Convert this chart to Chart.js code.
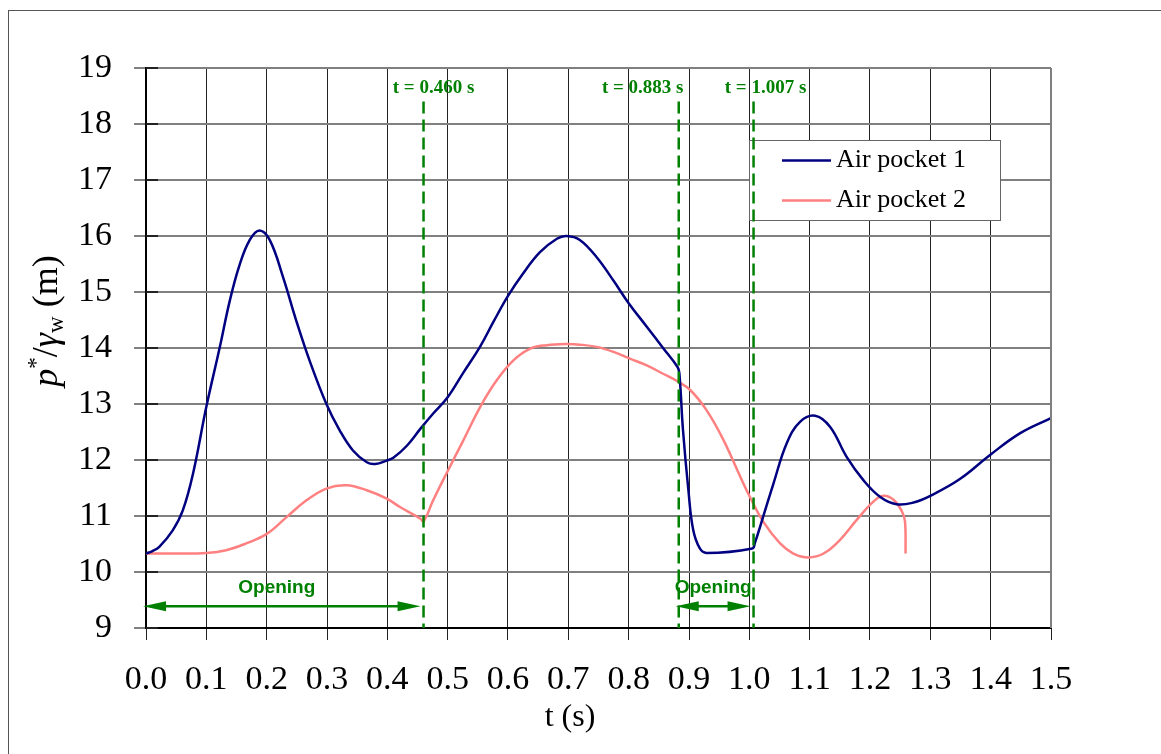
<!DOCTYPE html>
<html><head><meta charset="utf-8">
<script src="https://cdn.jsdelivr.net/npm/chart.js@4/dist/chart.umd.min.js"></script>
<style>html,body{margin:0;padding:0;background:#fff}#wrap{width:1161px;height:754px}</style>
</head><body><div id="wrap"><canvas id="c" width="1161" height="754"></canvas></div>
<script>
// ---- data ----
const seriesNames = ['Air pocket 1', 'Air pocket 2'];
const tAir1 = [0, 0.01, 0.022, 0.044, 0.061, 0.078, 0.10, 0.122, 0.139, 0.155, 0.172, 0.188, 0.205, 0.227, 0.249, 0.271, 0.299, 0.321, 0.343, 0.366, 0.380, 0.399, 0.41, 0.432, 0.455, 0.476, 0.5, 0.526, 0.554, 0.576, 0.6, 0.625, 0.653, 0.681, 0.697, 0.719, 0.747, 0.775, 0.8, 0.83, 0.857, 0.881, 0.884, 0.89, 0.899, 0.907, 0.918, 0.929, 1.005, 1.009, 1.023, 1.04, 1.062, 1.084, 1.109, 1.134, 1.161, 1.189, 1.217, 1.244, 1.272, 1.3, 1.349, 1.399, 1.449, 1.5];
const pAir1 = [10.33, 10.37, 10.45, 10.74, 11.10, 11.76, 12.95, 14.0, 14.85, 15.48, 15.93, 16.10, 15.93, 15.27, 14.49, 13.78, 13.0, 12.53, 12.17, 11.96, 11.93, 11.99, 12.04, 12.25, 12.56, 12.83, 13.12, 13.56, 14.03, 14.47, 14.93, 15.33, 15.71, 15.95, 16.0, 15.93, 15.62, 15.2, 14.8, 14.38, 14.0, 13.66, 13.55, 12.54, 11.46, 10.75, 10.42, 10.34, 10.42, 10.51, 10.99, 11.58, 12.3, 12.68, 12.79, 12.59, 12.06, 11.64, 11.34, 11.21, 11.24, 11.36, 11.66, 12.09, 12.48, 12.75];
const tAir2 = [0, 0.05, 0.1, 0.133, 0.166, 0.2, 0.233, 0.266, 0.299, 0.332, 0.366, 0.399, 0.421, 0.455, 0.46, 0.476, 0.498, 0.526, 0.554, 0.581, 0.609, 0.637, 0.664, 0.697, 0.719, 0.747, 0.775, 0.802, 0.83, 0.857, 0.88, 0.902, 0.929, 0.957, 0.985, 1.001, 1.023, 1.051, 1.073, 1.098, 1.123, 1.15, 1.178, 1.206, 1.222, 1.239, 1.253, 1.258, 1.259];
const pAir2 = [10.33, 10.33, 10.34, 10.39, 10.51, 10.68, 10.98, 11.28, 11.49, 11.55, 11.46, 11.31, 11.16, 10.95, 10.9, 11.28, 11.76, 12.35, 12.95, 13.42, 13.78, 13.99, 14.05, 14.07, 14.06, 14.02, 13.93, 13.81, 13.69, 13.54, 13.41, 13.25, 12.89, 12.36, 11.7, 11.34, 10.9, 10.51, 10.33, 10.26, 10.33, 10.57, 10.93, 11.26, 11.36, 11.29, 11.08, 10.9, 10.33];
const eventTimes = [0.460, 0.883, 1.007];
const eventLabels = ['t = 0.460 s', 't = 0.883 s', 't = 1.007 s'];
const openingStart = [0.0, 0.883];
const openingEnd = [0.460, 1.007];
const openingLabel = 'Opening';
const xTickMin = 0, xTickMax = 1.5, xTickStep = 0.1;
const yTickMin = 9, yTickMax = 19, yTickStep = 1;
const xTitle = 't (s)';

const SERIF = '"Liberation Serif", "DejaVu Serif", serif';
const SANS = '"Liberation Sans", Arial, sans-serif';
const GREEN = '#008000';

const pts = (ts, vs) => ts.map((t, i) => ({x: t, y: vs[i]}));

const decor = {
  id: 'decor',
  beforeDraw(chart) {
    const c = chart.ctx;
    c.save();
    c.fillStyle = '#fff';
    c.fillRect(0, 0, chart.width, chart.height);
    c.strokeStyle = '#555';
    c.lineWidth = 1;
    c.strokeRect(8.5, 10.5, 2000, 2000);
    c.restore();
  },
  afterDatasetsDraw(chart) {
    const c = chart.ctx, xs = chart.scales.x, ys = chart.scales.y;
    const area = chart.chartArea;
    c.save();
    // right border gray
    c.strokeStyle = '#808080';
    c.lineWidth = 2;
    c.beginPath(); c.moveTo(area.right, area.top); c.lineTo(area.right, area.bottom); c.stroke();
    // inner y ticks
    c.strokeStyle = '#222';
    c.lineWidth = 2;
    for (let v = yTickMin; v <= yTickMax; v += yTickStep) {
      const y = Math.round(ys.getPixelForValue(v));
      c.beginPath(); c.moveTo(area.left, y); c.lineTo(area.left + 12, y); c.stroke();
    }
    // legend
    const lx = 749.5, ly = 140.5, lw = 251, lh = 80;
    c.fillStyle = '#fff';
    c.fillRect(lx, ly, lw, lh);
    c.strokeStyle = '#666'; c.lineWidth = 1;
    c.strokeRect(lx, ly, lw, lh);
    chart.data.datasets.forEach((ds, i) => {
      const y = 160.5 + i * 40;
      c.strokeStyle = ds.borderColor; c.lineWidth = 2.5;
      c.beginPath(); c.moveTo(782, y); c.lineTo(831, y); c.stroke();
      c.fillStyle = '#000';
      c.font = '26px ' + SERIF;
      c.textAlign = 'left'; c.textBaseline = 'middle';
      c.fillText(ds.label, 836, y);
    });
    // event dashed lines
    const labelOffsets = [10, -36, 12];
    c.strokeStyle = GREEN; c.lineWidth = 2.5;
    c.setLineDash([12, 6]);
    eventTimes.forEach((t, i) => {
      const x = xs.getPixelForValue(t);
      c.beginPath(); c.moveTo(x, ys.getPixelForValue(18.4)); c.lineTo(x, area.bottom); c.stroke();
    });
    c.setLineDash([]);
    c.fillStyle = GREEN;
    c.font = 'bold 19px ' + SERIF;
    c.textAlign = 'center'; c.textBaseline = 'middle';
    eventTimes.forEach((t, i) => {
      c.fillText(eventLabels[i], xs.getPixelForValue(t) + labelOffsets[i], 88);
    });
    // opening arrows
    const ay = ys.getPixelForValue(9.39);
    const head = (xTip, dir) => {
      c.beginPath();
      c.moveTo(xTip, ay);
      c.lineTo(xTip + dir * 23, ay - 5);
      c.lineTo(xTip + dir * 23, ay + 5);
      c.closePath(); c.fill();
    };
    c.strokeStyle = GREEN; c.fillStyle = GREEN; c.lineWidth = 2.5;
    openingStart.forEach((t0, i) => {
      const x0 = xs.getPixelForValue(t0) - 3;
      const x1 = xs.getPixelForValue(openingEnd[i]) - 3;
      c.beginPath(); c.moveTo(x0 + 10, ay); c.lineTo(x1 - 10, ay); c.stroke();
      head(x0, 1); head(x1, -1);
      c.font = 'bold 19px ' + SANS;
      c.textAlign = 'center'; c.textBaseline = 'middle';
      c.fillText(openingLabel, (x0 + x1) / 2 - (i === 0 ? 5 : 0), 588);
    });
    // x title
    c.fillStyle = '#000';
    c.font = '32px ' + SERIF;
    c.textAlign = 'center'; c.textBaseline = 'middle';
    c.fillText(xTitle, 570, 718);
    // y title p*/γw (m)
    c.save();
    c.translate(57, 321);
    c.rotate(-Math.PI / 2);
    const S = 36, s = 23;
    const pieces = [
      {t: 'p', f: 'italic ' + S + 'px ' + SERIF, dy: 0},
      {t: '*', f: s + 'px ' + SERIF, dy: -S * 0.4},
      {t: '/', f: S + 'px ' + SERIF, dy: 0},
      {t: 'γ', f: 'italic ' + S + 'px ' + SERIF, dy: 0},
      {t: 'w', f: s + 'px ' + SERIF, dy: S * 0.18},
      {t: ' (m)', f: S + 'px ' + SERIF, dy: 0}
    ];
    let total = 0;
    pieces.forEach(p => { c.font = p.f; p.w = c.measureText(p.t).width; total += p.w; });
    let px = -total / 2;
    c.textAlign = 'left'; c.textBaseline = 'alphabetic';
    pieces.forEach(p => { c.font = p.f; c.fillText(p.t, px, p.dy); px += p.w; });
    c.restore();
    c.restore();
  }
};

new Chart(document.getElementById('c'), {
  type: 'line',
  data: {
    datasets: [
      {label: seriesNames[0], data: pts(tAir1, pAir1), borderColor: '#000080', borderWidth: 2.5, pointRadius: 0, tension: 0.4, fill: false},
      {label: seriesNames[1], data: pts(tAir2, pAir2), borderColor: '#FF8080', borderWidth: 2.5, pointRadius: 0, tension: 0.4, fill: false}
    ]
  },
  options: {
    responsive: false,
    animation: false,
    devicePixelRatio: 1,
    layout: {padding: {top: 68, right: 110, bottom: 0, left: 0}},
    plugins: {legend: {display: false}, tooltip: {enabled: false}},
    scales: {
      x: {
        type: 'linear', min: xTickMin, max: xTickMax,
        afterFit: s => { s.height = 126; },
        ticks: {stepSize: xTickStep, color: '#000', font: {family: SERIF, size: 34}, padding: 20, maxRotation: 0, autoSkip: false,
          callback: v => Number(v).toFixed(1)},
        grid: {color: '#222', lineWidth: 1, tickLength: 12},
        border: {color: '#000', width: 2}
      },
      y: {
        min: yTickMin, max: yTickMax,
        afterFit: s => { s.width = 146; },
        ticks: {stepSize: yTickStep, color: '#000', font: {family: SERIF, size: 34}, padding: 22},
        grid: {color: '#808080', lineWidth: 2, tickLength: 12},
        border: {color: '#000', width: 2}
      }
    }
  },
  plugins: [decor]
});
</script>
</body></html>
